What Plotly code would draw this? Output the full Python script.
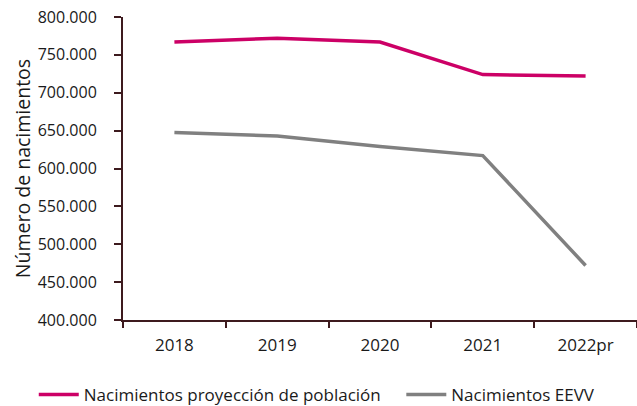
import plotly.graph_objects as go

years = ["2018", "2019", "2020", "2021", "2022pr"]
proyeccion = [767000, 772000, 767000, 724000, 722000]
eevv = [647500, 643000, 629000, 617000, 472000]
series_names = ["Nacimientos proyección de población", "Nacimientos EEVV"]
y_ticks = [400000, 450000, 500000, 550000, 600000, 650000, 700000, 750000, 800000]

axis_color = "#3d1a1e"
font_family = "Open Sans, Noto Sans, DejaVu Sans, sans-serif"

fig = go.Figure()
fig.add_trace(go.Scatter(x=years, y=proyeccion, mode="lines", name=series_names[0],
                         line=dict(color="#CC0066", width=3.5), legend="legend"))
fig.add_trace(go.Scatter(x=years, y=eevv, mode="lines", name=series_names[1],
                         line=dict(color="#808080", width=3.5), legend="legend2"))

legend_common = dict(orientation="h", xref="container", yref="container",
                     xanchor="left", yanchor="middle", y=0.027,
                     font=dict(size=17), itemwidth=40, bgcolor="rgba(0,0,0,0)")

fig.update_layout(
    width=637, height=406,
    margin=dict(l=123, r=0, t=17, b=86),
    paper_bgcolor="white", plot_bgcolor="white",
    separators=",.",
    font=dict(family=font_family, size=14, color="#1a1a1a"),
    showlegend=True,
    legend=dict(x=0.053, **legend_common),
    legend2=dict(x=0.630, **legend_common),
)
fig.update_xaxes(type="category", range=[-0.5, 4.5], showline=True, linecolor=axis_color,
                 linewidth=2, ticks="outside", tickson="boundaries", ticklen=6,
                 tickcolor=axis_color, tickwidth=2, showgrid=False, zeroline=False,
                 tickfont=dict(size=17), ticklabelstandoff=9)
fig.update_yaxes(range=[400000, 800000], tickvals=y_ticks, tickformat=",.0f",
                 showline=True, linecolor=axis_color, linewidth=2, ticks="outside",
                 ticklen=7, tickcolor=axis_color, tickwidth=2, showgrid=False,
                 zeroline=False, tickfont=dict(size=16), ticklabelstandoff=14,
                 title=dict(text="Número de nacimientos", font=dict(size=19.5), standoff=2))

fig.write_html("out.html", config={"displayModeBar": False},
               post_script="document.body.style.margin='0';")
